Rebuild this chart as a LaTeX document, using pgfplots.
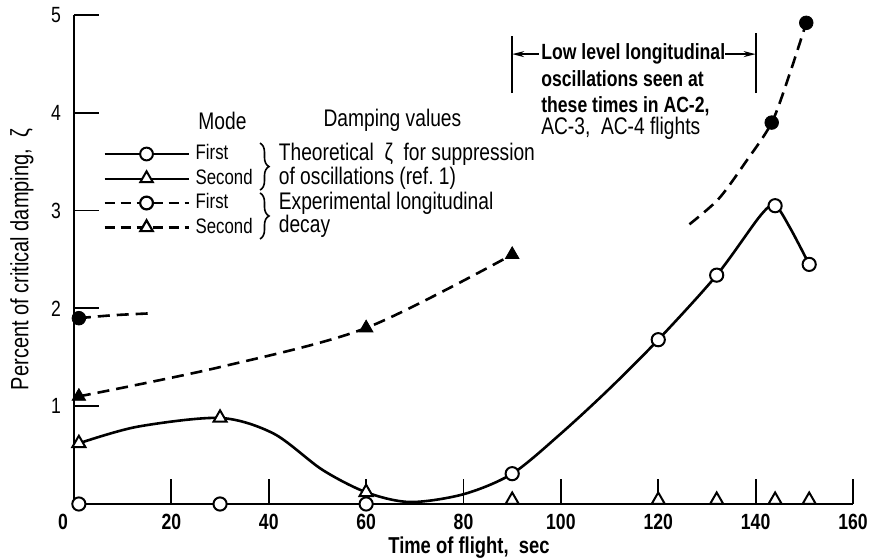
\documentclass[border=0pt]{standalone}
\usepackage{fontspec}
\setmainfont{Liberation Sans}[FakeStretch=0.8]
\usepackage{pgfplots}
\pgfplotsset{compat=1.18}
\usetikzlibrary{decorations.pathreplacing,arrows.meta}

\begin{document}
\begin{tikzpicture}
\begin{axis}[
    at={(0,0)}, anchor=south west,
    scale only axis, width=389.5pt, height=244.5pt,
    xmin=0, xmax=160, ymin=0, ymax=5,
    axis lines*=left,
    axis line style={line width=1pt},
    xtick={0,20,...,160}, ytick={1,2,3,4,5},
    xticklabels={\makebox[0pt][r]{0\hspace{3pt}},20,40,60,80,100,120,140,160},
    tick align=inside, major tick length=12.5pt,
    tick style={line width=0.9pt, black},
    /pgf/number format/assume math mode=true,
    xticklabel style={font=\fontsize{11}{13}\selectfont\bfseries, yshift=-1.5pt},
    yticklabel style={font=\fontsize{11}{13}\selectfont, xshift=-3pt},
    xlabel={Time of flight,\ \ sec},
    xlabel style={at={(axis description cs:0.507,0)}, anchor=center, yshift=-22pt,
        font=\fontsize{11.5}{13}\selectfont\bfseries},
    ylabel={Percent of critical damping,\ \ ζ},
    ylabel style={at={(axis description cs:-0.067,0.5)}, anchor=center,
        font=\fontsize{12.5}{14}\selectfont},
    clip=false,
    legend image code/.code={\draw[mark repeat=2,mark phase=2,#1]
        plot coordinates {(0pt,0pt)(21pt,0pt)(42pt,0pt)};},
    legend cell align=left,
    legend style={at={(axis cs:5.97,3.69)}, anchor=north west, draw=none, fill=none,
        inner sep=0pt, row sep=1.75pt,
        font=\fontsize{10.5}{13}\selectfont,
        nodes={inner sep=0pt, text height=8pt, text depth=2.5pt},
        /tikz/every odd column/.append style={column sep=3pt}},
]

% legend entries (mode)
\addlegendimage{line width=1pt, mark=*, mark size=3.2pt, mark options={fill=white, solid}}
\addlegendentry{First}
\addlegendimage{line width=1pt, mark=triangle*, mark size=3.6pt, mark options={fill=white, solid}}
\addlegendentry{Second}
\addlegendimage{line width=1.1pt, dash pattern=on 5pt off 3pt, mark=*, mark size=3.2pt, mark options={fill=white, solid}}
\addlegendentry{First}
\addlegendimage{line width=1.1pt, dash pattern=on 5pt off 3pt, mark=triangle*, mark size=3.6pt, mark options={fill=white, solid}}
\addlegendentry{Second}

% theoretical damping curve
\addplot[line width=1.3pt, smooth, forget plot] coordinates {
    (1,0.62)(13,0.79)(30,0.88)(41,0.72)(51,0.35)(60,0.12)(69,0.02)(80,0.1)
    (90,0.31)(100,0.72)(110,1.18)(120,1.68)(132,2.34)(141,2.95)(144,3.05)
    (147,2.83)(151,2.45)};

% experimental decay curves
\addplot[line width=1.3pt, dash pattern=on 6pt off 3.5pt, smooth, forget plot] coordinates {
    (1,1.9)(8,1.93)(16,1.95)};
\addplot[line width=1.3pt, dash pattern=on 6pt off 3.5pt, smooth, forget plot] coordinates {
    (1,1.1)(30,1.4)(60,1.8)(90,2.55)};
\addplot[line width=1.3pt, dash pattern=on 6pt off 3.5pt, smooth, forget plot] coordinates {
    (126.4,2.86)(132.4,3.12)(138,3.5)(143.3,3.9)(147,4.4)(150.4,4.92)};

% theoretical, first mode
\addplot[only marks, mark=*, mark size=3.3pt, mark options={fill=white, line width=1pt}, forget plot]
    coordinates {(1,0)(30,0)(60,0)(90,0.31)(120,1.68)(132,2.34)(144,3.05)(151,2.45)};
% theoretical, second mode
\addplot[only marks, mark=triangle*, mark size=3.8pt, mark options={fill=white, line width=1pt}, forget plot]
    coordinates {(1,0.62)(30,0.88)(60,0.12)(90,0.04)(120,0.04)(132,0.04)(144,0.04)(151,0.04)};
% experimental, first mode
\addplot[only marks, mark=*, mark size=3.4pt, forget plot]
    coordinates {(1,1.9)(143.3,3.9)(150.4,4.92)};
% experimental, second mode
\addplot[only marks, mark=triangle*, mark size=3.9pt, forget plot]
    coordinates {(1,1.1)(60,1.8)(90,2.55)};

% legend headings and braces
\node[font=\fontsize{12}{14}\selectfont] at (axis cs:30.5,3.92) {Mode};
\node[font=\fontsize{12}{14}\selectfont] at (axis cs:65.4,3.92) {Damping values};
\draw[decorate, decoration={brace, amplitude=4.5pt}, line width=0.8pt]
    (axis cs:38.2,3.69) -- (axis cs:38.2,3.21);
\draw[decorate, decoration={brace, amplitude=4.5pt}, line width=0.8pt]
    (axis cs:38.2,3.18) -- (axis cs:38.2,2.71);
\begin{scope}[every node/.style={anchor=west, inner sep=0pt, font=\fontsize{12}{14}\selectfont}]
\node at (axis cs:42,3.58) {Theoretical\ \ ζ\ \ for suppression};
\node at (axis cs:42,3.33) {of oscillations (ref.\ 1)};
\node at (axis cs:42,3.07) {Experimental longitudinal};
\node at (axis cs:42,2.84) {decay};
\end{scope}

% flight oscillation window
\draw[line width=1pt] (axis cs:90,4.2) -- (axis cs:90,4.79);
\draw[line width=1pt] (axis cs:140,4.2) -- (axis cs:140,4.82);
\draw[line width=0.8pt, -{Stealth[length=6pt,width=3pt]}] (axis cs:95.5,4.6) -- (axis cs:90,4.6);
\draw[line width=0.8pt, -{Stealth[length=6pt,width=3pt]}] (axis cs:133.8,4.6) -- (axis cs:140,4.6);
\begin{scope}[every node/.style={anchor=west, inner sep=0pt, font=\fontsize{12}{14}\selectfont}]
\node[font=\fontsize{11}{13}\selectfont\bfseries] at (axis cs:95.9,4.60) {Low level longitudinal};
\node[font=\fontsize{11}{13}\selectfont\bfseries] at (axis cs:95.9,4.35) {oscillations seen at};
\node[font=\fontsize{11}{13}\selectfont\bfseries] at (axis cs:95.9,4.07) {these times in AC-2,};
\node at (axis cs:95.9,3.84) {AC-3,\ \ AC-4 flights};
\end{scope}
\end{axis}
\pgfresetboundingbox
\path[use as bounding box] (-37pt,-28pt) rectangle (398pt,252pt);
\end{tikzpicture}
\end{document}
